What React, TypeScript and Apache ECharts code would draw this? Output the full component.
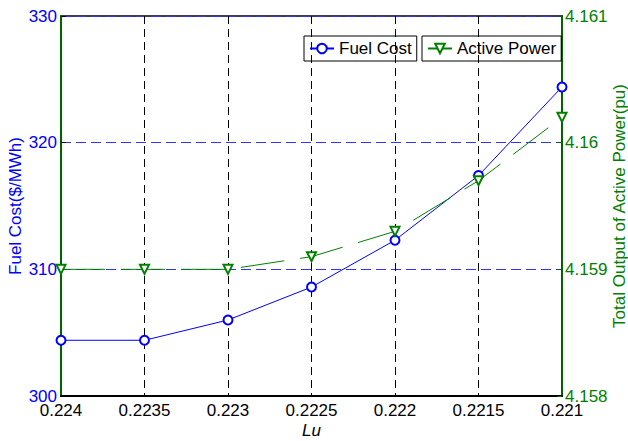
import React, { useEffect, useRef } from "react";
import * as echarts from "echarts";

const luValues = [0.224, 0.2235, 0.223, 0.2225, 0.222, 0.2215, 0.221];
const fuelCost = [304.4, 304.4, 306.0, 308.6, 312.3, 317.4, 324.4];
const activePower = [4.159, 4.159, 4.159, 4.1591, 4.1593, 4.1597, 4.1602];

const BLUE = "#0000ff";
const GRIDBLUE = "#3333ff";
const GREEN = "#008000";
const DARKGREEN = "#006400";
const FONT = "'Liberation Sans', Arial, Helvetica, sans-serif";

export default function App() {
  const ref = useRef<HTMLDivElement>(null);
  useEffect(() => {
    if (!ref.current) return;
    const chart = echarts.init(ref.current, undefined, { renderer: "svg" });
    chart.setOption({
      animation: false,
      backgroundColor: "#fff",
      textStyle: { fontFamily: FONT },
      grid: {
        left: 61,
        right: 66,
        top: 16,
        bottom: 45,
        containLabel: false,
        outerBoundsMode: "none",
        show: true,
        borderColor: "#000",
        borderWidth: 1.5,
      },
      legend: [
        {
          data: ["Fuel Cost"],
          left: 304,
          top: 36,
          orient: "horizontal",
          borderColor: "#000",
          borderWidth: 1,
          padding: [4, 5],
          itemWidth: 24,
          itemHeight: 12,
          textStyle: { fontSize: 17, color: "#000", fontFamily: FONT },
        },
        {
          data: ["Active Power"],
          left: 422,
          top: 36,
          orient: "horizontal",
          borderColor: "#000",
          borderWidth: 1,
          padding: [4, 5],
          itemWidth: 24,
          itemHeight: 12,
          textStyle: { fontSize: 17, color: "#000", fontFamily: FONT },
        },
      ],
      xAxis: {
        type: "value",
        min: 0.221,
        max: 0.224,
        interval: 0.0005,
        inverse: true,
        name: "Lu",
        nameLocation: "middle",
        nameGap: 26,
        nameMoveOverlap: false,
        nameTextStyle: { fontSize: 17, fontStyle: "italic", color: "#000", fontFamily: FONT },
        axisLine: { lineStyle: { color: "#000", width: 2 } },
        axisTick: { show: false },
        axisLabel: {
          fontSize: 17,
          color: "#000",
          margin: 6,
          fontFamily: FONT,
          formatter: (v: number) => String(+v.toFixed(4)),
        },
        splitLine: { show: true, lineStyle: { color: "#000", type: [8, 5], width: 1 } },
      },
      yAxis: [
        {
          type: "value",
          min: 300,
          max: 330,
          interval: 10,
          position: "left",
          name: "Fuel Cost($/MWh)",
          nameLocation: "middle",
          nameGap: 37,
          nameRotate: 90,
          nameMoveOverlap: false,
          nameTextStyle: { fontSize: 17, color: BLUE, fontFamily: FONT },
          axisLine: { show: true, lineStyle: { color: DARKGREEN, width: 2 } },
          axisTick: { show: true, inside: true, length: 5, lineStyle: { color: "#000" } },
          axisLabel: { fontSize: 17, color: BLUE, margin: 4, fontFamily: FONT },
          splitLine: { show: true, lineStyle: { color: GRIDBLUE, type: [10, 5], width: 1 } },
        },
        {
          type: "value",
          min: 4.158,
          max: 4.161,
          interval: 0.001,
          position: "right",
          name: "Total Output of Active Power(pu)",
          nameLocation: "middle",
          nameGap: 49,
          nameRotate: 90,
          nameMoveOverlap: false,
          nameTextStyle: { fontSize: 17, color: GREEN, fontFamily: FONT },
          axisLine: { show: true, lineStyle: { color: DARKGREEN, width: 2 } },
          axisTick: { show: true, inside: true, length: 5, lineStyle: { color: DARKGREEN } },
          axisLabel: {
            fontSize: 17,
            color: GREEN,
            margin: 3,
            fontFamily: FONT,
            formatter: (v: number) => String(+v.toFixed(3)),
          },
          splitLine: { show: false },
        },
      ],
      series: [
        {
          name: "Fuel Cost",
          type: "line",
          yAxisIndex: 0,
          data: luValues.map((x, i) => [x, fuelCost[i]]),
          symbol: "emptyCircle",
          symbolSize: 9,
          color: BLUE,
          lineStyle: { color: BLUE, width: 1 },
          itemStyle: { color: BLUE, borderColor: BLUE, borderWidth: 1 },
          z: 3,
        },
        {
          name: "Active Power",
          type: "line",
          yAxisIndex: 1,
          data: luValues.map((x, i) => [x, activePower[i]]),
          symbol: "emptyTriangle",
          symbolRotate: 180,
          symbolSize: 9,
          color: GREEN,
          lineStyle: { color: GREEN, width: 1, type: [44, 16] },
          itemStyle: { color: GREEN, borderColor: GREEN, borderWidth: 1 },
          z: 3,
        },
      ],
    });
    return () => chart.dispose();
  }, []);
  return (
    <div
      ref={ref}
      style={{ position: "fixed", left: 0, top: 0, width: 628, height: 441 }}
    />
  );
}
